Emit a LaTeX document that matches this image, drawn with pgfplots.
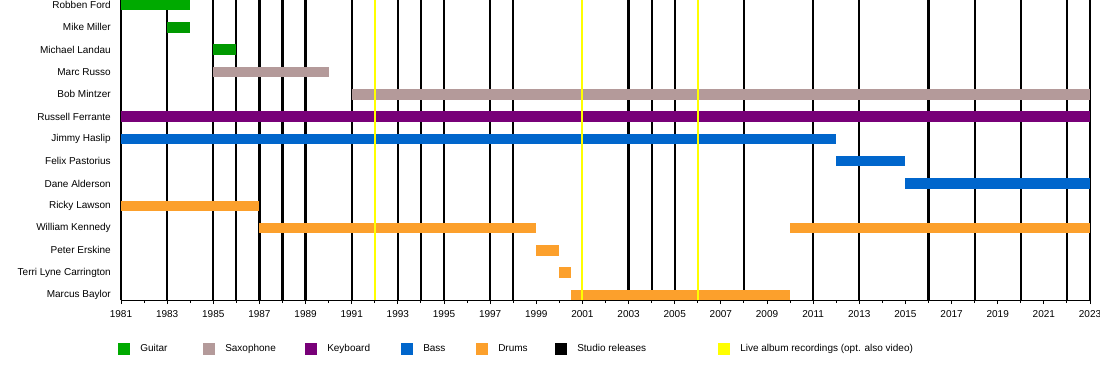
\documentclass[border=0pt]{standalone}
\usepackage{fontspec}
\setmainfont{Liberation Sans}
\usepackage{pgfplots}
\pgfplotsset{compat=1.18}
\definecolor{guitar}{HTML}{00AA00}
\definecolor{guitard}{HTML}{009900}
\definecolor{sax}{HTML}{B49A9A}
\definecolor{keys}{HTML}{780078}
\definecolor{bass}{HTML}{0066CC}
\definecolor{drums}{HTML}{FCA02C}
\definecolor{live}{HTML}{FFFF00}
\newcommand{\lt}[2]{\hspace*{7.5pt}\raisebox{-1.1pt}{\makebox[#1][l]{#2}}}
\begin{document}
\begin{tikzpicture}
\useasboundingbox (0,0) rectangle (825pt,285pt);
\begin{axis}[
  at={(90.75pt,60pt)}, anchor=south west,
  scale only axis, width=726.75pt, height=225pt,
  xmin=1981, xmax=2023, ymin=-0.224, ymax=13.229,
  clip=false,
  axis x line*=bottom, axis y line*=left,
  x axis line style={line width=0.6pt, -},
  y axis line style={draw=none},
  tick align=outside,
  xtick={1981,1983,...,2023}, minor x tick num=1,
  major tick length=3pt, minor tick length=2.25pt,
  x tick style={black, line width=0.75pt},
  ytick={0,...,13},
  yticklabels={Marcus Baylor, Terri Lyne Carrington, Peter Erskine, William Kennedy, Ricky Lawson, Dane Alderson, Felix Pastorius, Jimmy Haslip, Russell Ferrante, Bob Mintzer, Marc Russo, Michael Landau, Mike Miller, Robben Ford},
  y tick style={draw=none},
  /pgf/number format/1000 sep={},
  /pgf/number format/assume math mode=true,
  ticklabel style={font=\fontsize{7.5}{9}\selectfont},
  xticklabel style={inner sep=0pt, yshift=-4.5pt},
  yticklabel style={inner sep=0pt, xshift=-4.5pt},
  legend columns=7,
  legend style={at={(-0.0031,-0.1617)}, anchor=west, draw=none, fill=none,
    inner sep=0pt, column sep=0pt, font=\fontsize{7.5}{9}\selectfont,
    nodes={inner sep=0pt}},
  legend cell align=left,
  legend image code/.code={\fill[#1] (0pt,-4.5pt) rectangle (9pt,4.5pt);},
  tl/.style={line width=7.9pt, forget plot},
]
% studio releases
\pgfplotsinvokeforeach{1981,1983,1985,1986,1987,1988,1989,1991,1993,1994,1995,1997,1998,2003,2004,2005,2008,2011,2013,2016,2018,2020,2022,2023}{
  \addplot[black, line width=1.7pt, forget plot] coordinates {(#1,-0.224) (#1,13.229)};
}
% members
\addplot[tl, guitar] coordinates {(1981,13) (1984,13)};
\addplot[tl, guitard] coordinates {(1983,12) (1984,12)};
\addplot[tl, guitard] coordinates {(1985,11) (1986,11)};
\addplot[tl, sax] coordinates {(1985,10) (1990,10)};
\addplot[tl, sax] coordinates {(1991,9) (2023,9)};
\addplot[tl, keys] coordinates {(1981,8) (2023,8)};
\addplot[tl, bass] coordinates {(1981,7) (2012,7)};
\addplot[tl, bass] coordinates {(2012,6) (2015,6)};
\addplot[tl, bass] coordinates {(2015,5) (2023,5)};
\addplot[tl, drums] coordinates {(1981,4) (1987,4)};
\addplot[tl, drums] coordinates {(1987,3) (1999,3)};
\addplot[tl, drums] coordinates {(2010,3) (2023,3)};
\addplot[tl, drums] coordinates {(1999,2) (2000,2)};
\addplot[tl, drums] coordinates {(2000,1) (2000.5,1)};
\addplot[tl, drums] coordinates {(2000.5,0) (2010,0)};
% live recordings
\pgfplotsinvokeforeach{1992,2001,2006}{
  \addplot[live, line width=1.5pt, forget plot] coordinates {(#1,-0.224) (#1,13.229)};
}
\addlegendimage{fill=guitar, draw=none}
\addlegendentry{\lt{47.25pt}{Guitar}}
\addlegendimage{fill=sax, draw=none}
\addlegendentry{\lt{60pt}{Saxophone}}
\addlegendimage{fill=keys, draw=none}
\addlegendentry{\lt{55.5pt}{Keyboard}}
\addlegendimage{fill=bass, draw=none}
\addlegendentry{\lt{39.75pt}{Bass}}
\addlegendimage{fill=drums, draw=none}
\addlegendentry{\lt{42.75pt}{Drums}}
\addlegendimage{fill=black, draw=none}
\addlegendentry{\lt{105.75pt}{Studio releases}}
\addlegendimage{fill=live, draw=none}
\addlegendentry{\hspace*{7.5pt}\raisebox{-1.1pt}{Live album recordings (opt. also video)}}
\end{axis}
\end{tikzpicture}
\end{document}
